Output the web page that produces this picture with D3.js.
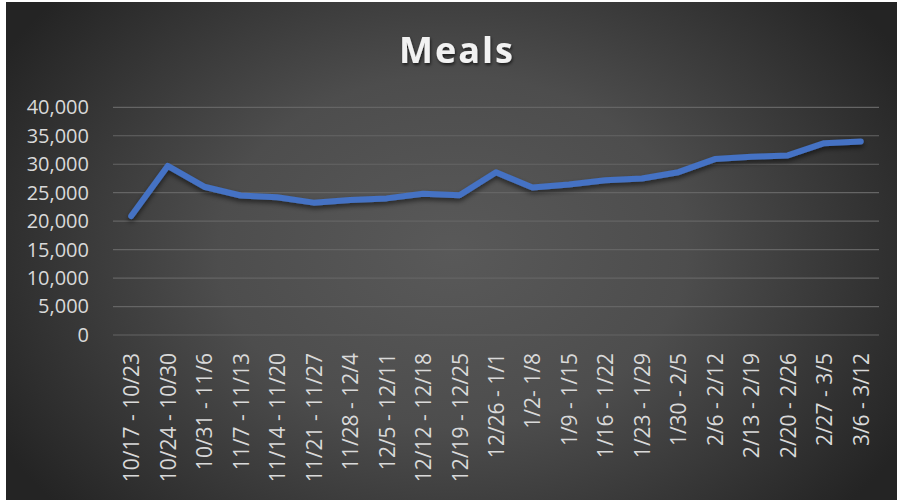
<!DOCTYPE html>
<html>
<head>
<meta charset="utf-8">
<script src="https://cdn.jsdelivr.net/npm/d3@7"></script>
<style>
  html, body { margin: 0; padding: 0; background: #ffffff; }
  svg { display: block; }
</style>
</head>
<body>
<svg id="chart" width="897" height="500"></svg>
<script>
const title = "Meals";
const categories = ["10/17 - 10/23","10/24 - 10/30","10/31 - 11/6","11/7 - 11/13","11/14 - 11/20",
  "11/21 - 11/27","11/28 - 12/4","12/5 - 12/11","12/12 - 12/18","12/19 - 12/25","12/26 - 1/1",
  "1/2- 1/8","1/9 - 1/15","1/16 - 1/22","1/23 - 1/29","1/30 - 2/5","2/6 - 2/12","2/13 - 2/19",
  "2/20 - 2/26","2/27 - 3/5","3/6 - 3/12"];
const meals = [20900, 29700, 26050, 24500, 24200, 23250, 23700, 24000, 24800, 24550, 28600,
  25900, 26450, 27200, 27500, 28600, 30900, 31300, 31550, 33700, 34000];
const yTicks = [0, 5000, 10000, 15000, 20000, 25000, 30000, 35000, 40000];

const svg = d3.select("#chart");
const W = 897, H = 500;
const defs = svg.append("defs");

const grad = defs.append("radialGradient").attr("id", "bg")
  .attr("gradientUnits", "userSpaceOnUse")
  .attr("cx", 452).attr("cy", 251).attr("r", 520)
  .attr("gradientTransform", "translate(452,251) scale(1,0.75) translate(-452,-251)");
grad.append("stop").attr("offset", "0%").attr("stop-color", "#595959");
grad.append("stop").attr("offset", "45%").attr("stop-color", "#4d4d4d");
grad.append("stop").attr("offset", "100%").attr("stop-color", "#242424");

const shadow = defs.append("filter").attr("id", "shadow")
  .attr("x", "-10%").attr("y", "-50%").attr("width", "120%").attr("height", "200%");
shadow.append("feDropShadow").attr("dx", 0).attr("dy", 3).attr("stdDeviation", 2.5)
  .attr("flood-color", "#000").attr("flood-opacity", 0.55);

const tshadow = defs.append("filter").attr("id", "tshadow")
  .attr("x", "-20%").attr("y", "-30%").attr("width", "140%").attr("height", "160%");
tshadow.append("feDropShadow").attr("dx", 1).attr("dy", 2).attr("stdDeviation", 1.5)
  .attr("flood-color", "#000").attr("flood-opacity", 0.6);

svg.append("rect").attr("x", 6).attr("y", 2).attr("width", W - 6).attr("height", H - 2)
  .attr("fill", "url(#bg)");

const margin = { left: 113, right: 879, top: 107.3, bottom: 335 };

const x = d3.scaleBand().domain(categories).range([margin.left, margin.right]).padding(0);
const y = d3.scaleLinear().domain([0, 40000]).range([margin.bottom, margin.top]);

// gridlines
svg.append("g").selectAll("line").data(yTicks).join("line")
  .attr("x1", margin.left).attr("x2", margin.right)
  .attr("y1", d => y(d)).attr("y2", d => y(d))
  .attr("stroke", "#656565").attr("stroke-width", 1.2);

// y axis
const yAxis = svg.append("g").attr("transform", `translate(${margin.left - 24},0)`)
  .call(d3.axisLeft(y).tickValues(yTicks).tickFormat(d3.format(",")).tickSize(0).tickPadding(0));
yAxis.select(".domain").remove();
yAxis.selectAll("text")
  .attr("fill", "#d9d9d9").attr("font-family", "'Open Sans', sans-serif").attr("font-size", 20);

// x axis
const xAxis = svg.append("g").attr("transform", `translate(0,${margin.bottom})`)
  .call(d3.axisBottom(x).tickSize(0).tickPadding(0));
xAxis.select(".domain").remove();
xAxis.selectAll("text")
  .attr("fill", "#d9d9d9").attr("font-family", "'Open Sans', sans-serif").attr("font-size", 21)
  .attr("text-anchor", "end").attr("dy", null)
  .attr("transform", "translate(8,18) rotate(-90)")
  .attr("x", 0).attr("y", 0);

// line
const line = d3.line()
  .x((d, i) => x(categories[i]) + x.bandwidth() / 2)
  .y(d => y(d));
svg.append("path").datum(meals)
  .attr("d", line)
  .attr("fill", "none").attr("stroke", "#4472c4").attr("stroke-width", 6)
  .attr("stroke-linejoin", "round").attr("stroke-linecap", "round")
  .attr("filter", "url(#shadow)");

// title
svg.append("text").attr("x", 457).attr("y", 63)
  .attr("text-anchor", "middle")
  .attr("font-family", "'Open Sans', sans-serif").attr("font-weight", "bold")
  .attr("font-size", 36).attr("letter-spacing", 2)
  .attr("fill", "#f2f2f2").attr("filter", "url(#tshadow)")
  .text(title);
</script>
</body>
</html>
